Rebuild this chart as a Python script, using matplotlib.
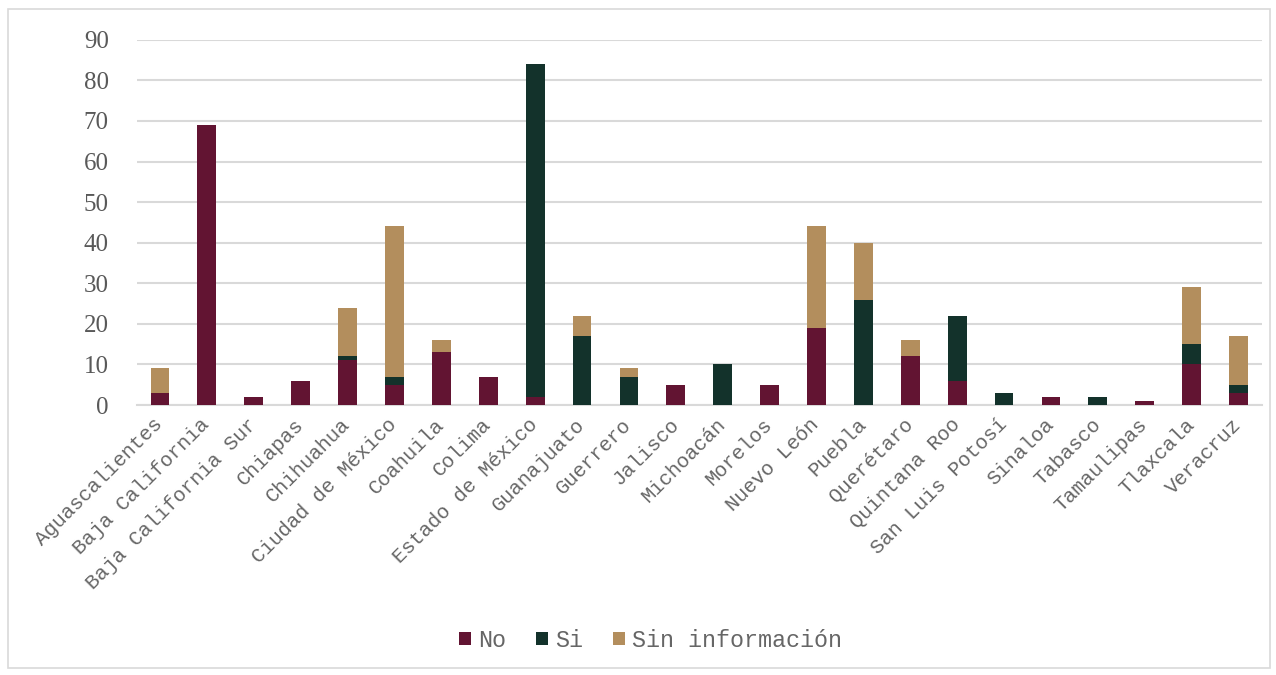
import matplotlib
matplotlib.use("Agg")
import matplotlib.pyplot as plt
from matplotlib.patches import Rectangle
import matplotlib.transforms as mtransforms
import numpy as np

states = ["Aguascalientes", "Baja California", "Baja California Sur", "Chiapas",
          "Chihuahua", "Ciudad de México", "Coahuila", "Colima", "Estado de México",
          "Guanajuato", "Guerrero", "Jalisco", "Michoacán", "Morelos", "Nuevo León",
          "Puebla", "Querétaro", "Quintana Roo", "San Luis Potosí", "Sinaloa",
          "Tabasco", "Tamaulipas", "Tlaxcala", "Veracruz"]
no_vals = [3, 69, 2, 6, 11, 5, 13, 7, 2, 0, 0, 5, 0, 5, 19, 0, 12, 6, 0, 2, 0, 1, 10, 3]
si_vals = [0, 0, 0, 0, 1, 2, 0, 0, 82, 17, 7, 0, 10, 0, 0, 26, 0, 16, 3, 0, 2, 0, 5, 2]
sin_info_vals = [6, 0, 0, 0, 12, 37, 3, 0, 0, 5, 2, 0, 0, 0, 25, 14, 4, 0, 0, 0, 0, 0, 14, 12]
series_names = ["No", "Si", "Sin información"]
y_ticks = [0, 10, 20, 30, 40, 50, 60, 70, 80, 90]

colors = ["#621432", "#13322B", "#B38E5D"]

fig = plt.figure(figsize=(12.76, 6.75), dpi=100)
ax = fig.add_axes([0.107, 0.40, 0.882, 0.541])

x = np.arange(len(states))
no = np.array(no_vals)
si = np.array(si_vals)
sin = np.array(sin_info_vals)
w = 0.4
ax.bar(x, no, w, color=colors[0], label=series_names[0], zorder=3)
ax.bar(x, si, w, bottom=no, color=colors[1], label=series_names[1], zorder=3)
ax.bar(x, sin, w, bottom=no + si, color=colors[2], label=series_names[2], zorder=3)

ax.set_xlim(-0.5, len(states) - 0.5)
ax.set_ylim(0, 90)
ax.set_yticks(y_ticks)
ax.yaxis.grid(True, color="#d9d9d9", linewidth=1.5, zorder=0)
for s in ["top", "right", "left"]:
    ax.spines[s].set_visible(False)
ax.spines["bottom"].set_color("#d9d9d9")
ax.spines["bottom"].set_linewidth(1.5)
ax.tick_params(axis="both", length=0)
ax.tick_params(axis="y", pad=20)
for lab in ax.get_yticklabels():
    lab.set_family("Liberation Serif")
    lab.set_fontsize(18)
    lab.set_color("#595959")
ax.set_xticks(x)
ax.set_xticklabels(states, rotation=45, ha="right", rotation_mode="anchor",
                   family="Liberation Mono", fontsize=14.8, color="#666666")
ax.tick_params(axis="x", pad=7)
offset = mtransforms.ScaledTranslation(-7 / 100, 0, fig.dpi_scale_trans)
for lab in ax.get_xticklabels():
    lab.set_transform(lab.get_transform() + offset)

leg = fig.legend(loc="center", bbox_to_anchor=(0.51, 0.051), ncol=3, frameon=False,
                 prop={"family": "Liberation Mono", "size": 16.8},
                 handlelength=0.5, handleheight=0.5, handletextpad=0.3, columnspacing=1.3)
for t in leg.get_texts():
    t.set_color("#666666")

fig.patches.append(Rectangle((0.006, 0.01), 0.989, 0.976, transform=fig.transFigure,
                             fill=False, edgecolor="#d9d9d9", linewidth=1.2))

fig.savefig("out.png", dpi=100)
